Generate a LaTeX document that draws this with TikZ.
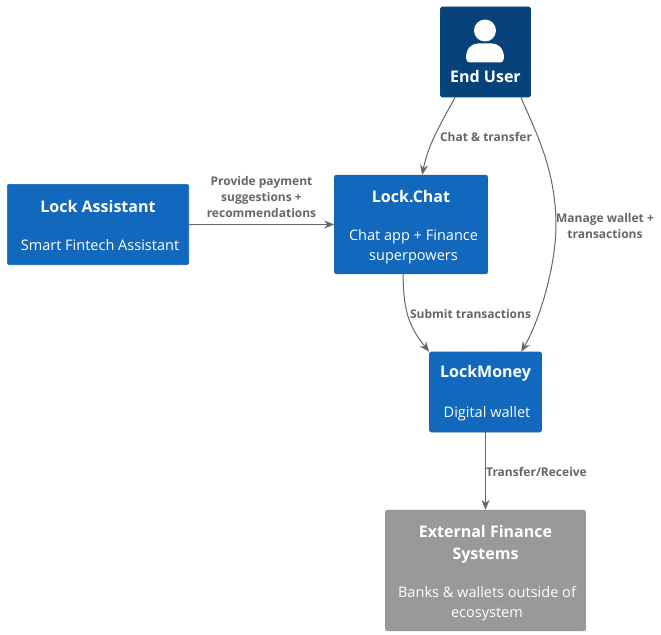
\documentclass[tikz,border=0pt]{standalone}
\usepackage{fontspec}
\setmainfont{Open Sans}
\usetikzlibrary{arrows.meta,calc,positioning}
\definecolor{lockBlue}   {HTML}{1168BD}
\definecolor{lockBlueB}  {HTML}{1263B3}
\definecolor{lockNavy}   {HTML}{08427B}
\definecolor{lockNavyB}  {HTML}{0A4680}
\definecolor{lockGray}   {HTML}{999999}
\definecolor{lockGrayB}  {HTML}{949494}
\definecolor{lockEdge}   {HTML}{666666}
\tikzset{
  boxnode/.style={draw=lockBlueB,fill=lockBlue,rounded corners=1.5pt,line width=0.5pt,inner sep=0pt},
  titletxt/.style={font=\fontsize{12}{16.5}\selectfont\bfseries,white,align=center,inner sep=0pt},
  desctxt/.style={font=\fontsize{10.9}{15}\selectfont,white,align=center,inner sep=0pt},
  edgetxt/.style={font=\fontsize{9}{12}\selectfont\bfseries,lockEdge,align=center,inner sep=0pt},
  flow/.style={draw=lockEdge,line width=0.75pt,-{Stealth[length=7.5pt,width=6pt]}}
}
\begin{document}
\begin{tikzpicture}[x=0.75pt,y=-0.75pt]
        \useasboundingbox (0,0) rectangle (661,635);
        % Boxes
        \node[boxnode,draw=lockNavyB,fill=lockNavy,minimum width=67.5pt,minimum height=67.5pt] (endUser) at (485.5,52) {};
        \node[boxnode,minimum width=136pt,minimum height=60.25pt] (lockAssistant) at (98,224.5) {};
        \node[boxnode,minimum width=114.75pt,minimum height=74pt] (lockChat) at (411,224.5) {};
        \node[boxnode,minimum width=84pt,minimum height=60pt] (lockMoney) at (485.5,392) {};
        \node[boxnode,draw=lockGrayB,fill=lockGray,minimum width=150pt,minimum height=90.5pt] (extFinance) at (485.5,570.5) {};
        % Person
        \fill[white] (485,30.5) circle (8.25pt);
        \fill[white] (466,58) .. controls (466,48) and (472,43.5) .. (478,43.5) -- (492,43.5)
          .. controls (498,43.5) and (504,48) .. (504,58)
          .. controls (504,61) and (502,62.5) .. (500,62.5) -- (470,62.5)
          .. controls (468,62.5) and (466,61) .. (466,58) -- cycle;
        % Texts
        \node[titletxt] (endUserT) at (485.5,76.5) {End User};
        \node[titletxt] (assistantT) at (98,206.5) {Lock Assistant};
        \node[desctxt] (assistantD) at (100,245.5) {Smart Fintech Assistant};
        \node[titletxt] (chatT) at (411,196.5) {Lock.Chat};
        \node[desctxt] (chatD) at (413.5,246.5) {Chat app + Finance\\superpowers};
        \node[titletxt] (moneyT) at (485.5,373.5) {LockMoney};
        \node[desctxt] (moneyD) at (487,414) {Digital wallet};
        \node[titletxt] (extT) at (485.5,544.5) {External Finance\\Systems};
        \node[desctxt] (extD) at (487,603.5) {Banks \& wallets outside of\\ecosystem};
        % Connectors
        \draw[flow] ($(endUser.south west)+(15,0)$) .. controls (440,125) and (428,145) .. ($(lockChat.north west)+(88,0)$);
        \draw[flow] ($(endUser.south east)+(-10,0)$) .. controls (535,130) and (556,170) .. (556,225)
          .. controls (556,265) and (540,320) .. ($(lockMoney.north west)+(92,0)$);
        \draw[flow] ($(lockChat.south west)+(69,0)$) .. controls (403,312) and (410,328) .. (lockMoney.north west);
        \draw[flow] (lockAssistant.east) -- (lockChat.west);
        \draw[flow] (lockMoney.south) -- (extFinance.north);
        % Labels
        \node[edgetxt] (chatL) at (486,136.5) {Chat \& transfer};
        \node[edgetxt] (provideL) at (261.5,196.5) {Provide payment\\suggestions +\\recommendations};
        \node[edgetxt] (submitL) at (470.5,313.5) {Submit transactions};
        \node[edgetxt] (manageL) at (605,225.5) {Manage wallet +\\transactions};
        \node[edgetxt] (transferL) at (536.5,471.5) {Transfer/Receive};
      \end{tikzpicture}
\end{document}
